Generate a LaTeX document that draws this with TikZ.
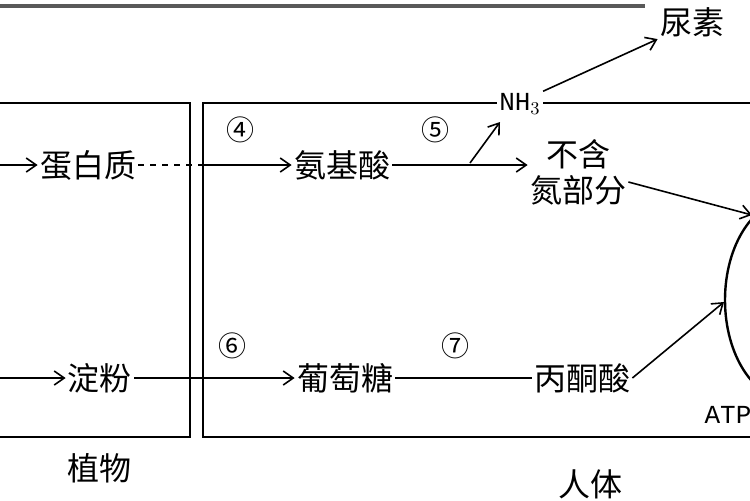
\documentclass[tikz,border=0pt]{standalone}
\usepackage{fontspec}
\newfontfamily\cjk{Noto Sans CJK SC}
\newfontfamily\monofont{Liberation Mono}
\usetikzlibrary{arrows.meta,positioning}

\tikzset{
  term/.style={font=\cjk\fontsize{16}{18}\selectfont, inner sep=1pt},
  step num/.style={font=\cjk\fontsize{14}{16}\selectfont, inner sep=0pt},
  flow/.style={-{Straight Barb[length=5pt,width=7pt]}, line width=0.8pt},
  frame/.style={line width=1.2pt}
}

\begin{document}
\begin{tikzpicture}[x=0.5pt, y=-0.5pt]
    \useasboundingbox (0,0) rectangle (750,500);
    \clip (0,0) rectangle (750,500);

    % frames
    \draw [line width=2pt, gray!70!black] (0, 6) -- (645, 6);
    \draw [frame] (-10, 103) rectangle (190, 437);
    \draw [frame] (203, 103) rectangle (760, 437);
    \draw [frame] (790, 300) ellipse (65 and 100);

    % terms
    \node [term] (urea) at (692, 22) {尿素};
    \node [font=\monofont\fontsize{13}{15}\selectfont, fill=white, inner sep=1pt] (nh3) at (520, 104) {NH$_3$};
    \node [term] (protein) at (88, 165) {蛋白质};
    \node [term] (amino) at (342, 165) {氨基酸};
    \node [term, align=center] (nonn) at (578, 172) {不含\\氮部分};
    \node [term] (starch) at (100, 378) {淀粉};
    \node [term] (glucose) at (345, 378) {葡萄糖};
    \node [term] (pyruvate) at (582, 378) {丙酮酸};
    \node [font=\monofont\fontsize{13}{15}\selectfont] (atp) at (728, 415) {ATP};
    \node [term] (plant) at (100, 468) {植物};
    \node [term] (human) at (590, 484) {人体};

    % step numbers
    \node [step num] (s4) at (240, 130) {④};
    \node [step num] (s5) at (435, 130) {⑤};
    \node [step num] (s6) at (232, 346) {⑥};
    \node [step num] (s7) at (455, 346) {⑦};

    % connectors
    \coordinate (pin) at (0, 165);
    \coordinate (sin) at (0, 378);
    \coordinate (resp) at (752, 215);
    \coordinate (resp2) at (724, 302);
    \coordinate (fork) at (470, 163);
    \coordinate (nhfoot) at (500, 122);
    \draw [flow] (pin) -- (protein.west);
    \draw [flow] (sin) -- (starch.west);
    \draw [line width=0.8pt, dashed] (protein.east) -- (200, 165);
    \draw [flow] (200, 165) -- (amino.west);
    \draw [flow] (amino.east) -- (nonn.west |- amino.east);
    \draw [flow] (fork) -- (nhfoot);
    \draw [flow] (nh3.north east) -- (urea.south west);
    \draw [flow] (starch.east) -- (glucose.west);
    \draw [line width=0.8pt] (glucose.east) -- (pyruvate.west);
    \draw [flow] ([yshift=-5pt]nonn.east) -- (resp);
    \draw [flow] (pyruvate.east) -- (resp2);
\end{tikzpicture}
\end{document}
